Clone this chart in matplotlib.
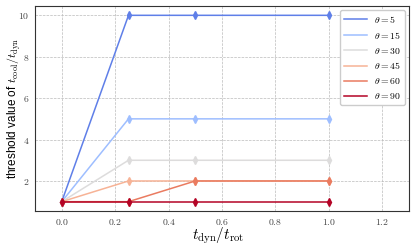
import matplotlib
matplotlib.use("Agg")
import matplotlib.pyplot as plt
import numpy as np

plt.rcParams['mathtext.fontset'] = 'cm'
plt.rcParams['font.family'] = ['Liberation Sans', 'DejaVu Sans']

x = [0.0, 0.25, 0.5, 1.0]
thetas = [5, 15, 30, 45, 60, 90]
values = {
    5: [1, 10, 10, 10],
    15: [1, 5, 5, 5],
    30: [1, 3, 3, 3],
    45: [1, 2, 2, 2],
    60: [1, 1, 2, 2],
    90: [1, 1, 1, 1],
}
cmap_pos = [0.12, 0.3, 0.5, 0.68, 0.82, 1.0]

fig = plt.figure(figsize=(4.15, 2.47), dpi=100)
ax = fig.add_axes([35/415, 1-211/247, (409-35)/415, (211-6)/247])
cmap = plt.get_cmap('coolwarm')
for th, p in zip(thetas, cmap_pos):
    c = cmap(p)
    ax.plot(x, values[th], '-', color=c, lw=1.1, label=r'$\theta = %d$' % th)
    ax.plot(x, values[th], 'd', color=c, ms=4)

ax.set_xlim(-0.1, 1.3)
ax.set_ylim(0.55, 10.45)
ax.set_xticks([0.0, 0.2, 0.4, 0.6, 0.8, 1.0, 1.2])
ax.set_xticklabels([r'$%.1f$' % v for v in [0.0, 0.2, 0.4, 0.6, 0.8, 1.0, 1.2]])
ax.set_yticks([2, 4, 6, 8, 10])
ax.set_yticklabels([r'$%d$' % v for v in [2, 4, 6, 8, 10]])
ax.tick_params(labelsize=7, length=0, colors='#444444', pad=4)
ax.grid(True, ls='--', lw=0.5, color='#bbbbbb')
for s in ax.spines.values():
    s.set_color('#333333')
    s.set_linewidth(0.8)
ax.set_xlabel(r'$t_{\rm dyn}/t_{\rm rot}$', fontsize=11)
ax.xaxis.set_label_coords(0.49, -0.072)
ax.set_ylabel(r'threshold value of $t_{\rm cool}/t_{\rm dyn}$', fontsize=8.5)
ax.yaxis.set_label_coords(-0.033, 0.5)
leg = ax.legend(loc='upper right', fontsize=7, framealpha=1, edgecolor='#cccccc',
                handlelength=2.3, borderaxespad=0.4)
fig.savefig('out.png', dpi=100)
